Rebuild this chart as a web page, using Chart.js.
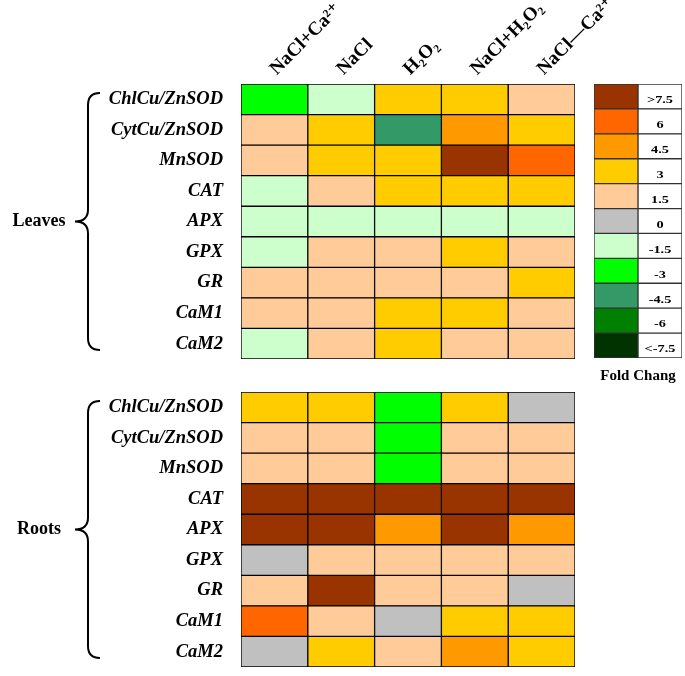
<!DOCTYPE html>
<html lang="en">
<head>
<meta charset="UTF-8">
<title>Fold change heatmap</title>
<script src="https://cdn.jsdelivr.net/npm/chart.js"></script>
<style>
  body { margin: 0; background: #fff; }
  #wrap { position: relative; width: 685px; height: 676px; overflow: hidden; }
  canvas { position: absolute; }
</style>
</head>
<body>
<div id="wrap">
  <canvas id="leaves" width="685" height="362" style="left:0;top:0"></canvas>
  <canvas id="roots" width="590" height="314" style="left:0;top:362px"></canvas>
  <canvas id="scale" width="100" height="310" style="left:585px;top:75px"></canvas>
</div>
<script>
// columns and rows of the heatmap
const treatments = ['NaCl+Ca²⁺', 'NaCl', 'H₂O₂', 'NaCl+H₂O₂', 'NaCl—Ca²⁺'];
const genes = ['ChlCu/ZnSOD', 'CytCu/ZnSOD', 'MnSOD', 'CAT', 'APX', 'GPX', 'GR', 'CaM1', 'CaM2'];

// fold change class of each cell, one row per gene, one column per treatment
const leavesFold = [
  [-3, -1.5, 3, 3, 1.5],
  [1.5, 3, -4.5, 4.5, 3],
  [1.5, 3, 3, 7.5, 6],
  [-1.5, 1.5, 3, 3, 3],
  [-1.5, -1.5, -1.5, -1.5, -1.5],
  [-1.5, 1.5, 1.5, 3, 1.5],
  [1.5, 1.5, 1.5, 1.5, 3],
  [1.5, 1.5, 3, 3, 1.5],
  [-1.5, 1.5, 3, 1.5, 1.5]
];
const rootsFold = [
  [3, 3, -3, 3, 0],
  [1.5, 1.5, -3, 1.5, 1.5],
  [1.5, 1.5, -3, 1.5, 1.5],
  [7.5, 7.5, 7.5, 7.5, 7.5],
  [7.5, 7.5, 4.5, 7.5, 4.5],
  [0, 1.5, 1.5, 1.5, 1.5],
  [1.5, 7.5, 1.5, 1.5, 0],
  [6, 1.5, 0, 3, 3],
  [0, 3, 1.5, 4.5, 3]
];

// colour key
const legendLevels = [7.5, 6, 4.5, 3, 1.5, 0, -1.5, -3, -4.5, -6, -7.5];
const legendLabels = ['>7.5', '6', '4.5', '3', '1.5', '0', '-1.5', '-3', '-4.5', '-6', '<-7.5'];
const legendColors = ['#993300', '#FF6600', '#FF9900', '#FFCC00', '#FFCC99', '#C0C0C0',
                      '#CCFFCC', '#00FF00', '#339966', '#008000', '#003300'];

const serif = '"Liberation Serif", "Times New Roman", "DejaVu Serif", serif';

function colorFor(v) {
  let best = 0;
  legendLevels.forEach((l, i) => {
    if (Math.abs(l - v) < Math.abs(legendLevels[best] - v)) best = i;
  });
  return legendColors[best];
}

// fixed axis size, no extra padding from label overhang
function fixSize(w, h) {
  return s => {
    if (w !== null) s.width = w;
    if (h !== null) s.height = h;
    s.paddingTop = 0;
    s.paddingBottom = 0;
    s.paddingLeft = 0;
    s.paddingRight = 0;
  };
}

function drawBrace(ctx, x, top, bottom) {
  const mid = (top + bottom) / 2;
  const r = 12;
  ctx.beginPath();
  ctx.moveTo(x + r, top);
  ctx.quadraticCurveTo(x, top, x, top + r);
  ctx.lineTo(x, mid - r);
  ctx.quadraticCurveTo(x, mid, x - r - 1, mid);
  ctx.quadraticCurveTo(x, mid, x, mid + r);
  ctx.lineTo(x, bottom - r);
  ctx.quadraticCurveTo(x, bottom, x + r, bottom);
  ctx.stroke();
}

// brace and organ name on the left of each panel
const bracePlugin = {
  id: 'groupBrace',
  afterDraw(chart, args, opts) {
    const ctx = chart.ctx;
    const area = chart.chartArea;
    ctx.save();
    ctx.strokeStyle = '#000';
    ctx.lineWidth = 2;
    drawBrace(ctx, 88, area.top + 9, area.bottom - 9);
    ctx.fillStyle = '#000';
    ctx.font = 'bold 18px ' + serif;
    ctx.textAlign = 'center';
    ctx.textBaseline = 'middle';
    ctx.fillText(opts.label, 39, (area.top + area.bottom) / 2);
    ctx.restore();
  }
};

function heatmap(id, fold, label, showHeader, padTop, padBottom, padRight) {
  const datasets = treatments.map((t, j) => ({
    label: t,
    data: genes.map(() => 1),
    backgroundColor: fold.map(row => colorFor(row[j])),
    borderColor: '#000',
    borderWidth: 1,
    borderSkipped: false,
    barPercentage: 1,
    categoryPercentage: 1
  }));

  return new Chart(document.getElementById(id), {
    type: 'bar',
    data: { labels: genes, datasets: datasets },
    options: {
      indexAxis: 'y',
      responsive: false,
      animation: false,
      layout: { padding: { top: padTop, bottom: padBottom, right: padRight, left: 0 } },
      plugins: {
        legend: { display: false },
        tooltip: { enabled: false },
        groupBrace: { label: label }
      },
      scales: {
        x: { display: false, stacked: true, min: 0, max: 5 },
        x2: {
          type: 'category',
          labels: treatments,
          position: 'top',
          offset: true,
          display: showHeader,
          grid: { display: false, drawTicks: false },
          border: { display: false },
          ticks: {
            autoSkip: false,
            minRotation: 45,
            maxRotation: 45,
            padding: 4,
            labelOffset: 15,
            color: '#000',
            font: { family: serif, size: 19, weight: 'bold' }
          },
          afterFit: fixSize(null, showHeader ? 84 : 0)
        },
        y: {
          stacked: true,
          grid: { display: false, drawTicks: false },
          border: { display: false },
          ticks: {
            autoSkip: false,
            padding: 18,
            color: '#000',
            font: { family: serif, size: 18.5, weight: 'bold', style: 'italic' }
          },
          afterFit: fixSize(241, null)
        }
      }
    },
    plugins: [bracePlugin]
  });
}

heatmap('leaves', leavesFold, 'Leaves', true, 0, 3, 110);
heatmap('roots', rootsFold, 'Roots', false, 30, 9, 15);

// text inside the white cells of the key (the original type is set wide)
const keyTextPlugin = {
  id: 'keyText',
  afterDatasetsDraw(chart) {
    const ctx = chart.ctx;
    const meta = chart.getDatasetMeta(1);
    ctx.fillStyle = '#000';
    meta.data.forEach((bar, i) => {
      const p = bar.getProps(['x', 'y', 'base'], true);
      ctx.save();
      ctx.translate((p.x + p.base) / 2, p.y + 4);
      ctx.scale(1.3, 1);
      ctx.font = 'bold 11px ' + serif;
      ctx.textAlign = 'center';
      ctx.textBaseline = 'middle';
      ctx.fillText(legendLabels[i], 0, 0);
      ctx.restore();
    });
  }
};

new Chart(document.getElementById('scale'), {
  type: 'bar',
  data: {
    labels: legendLabels,
    datasets: [
      {
        data: legendLevels.map(() => 1),
        backgroundColor: legendColors,
        borderColor: '#333',
        borderWidth: 1,
        borderSkipped: false,
        barPercentage: 1,
        categoryPercentage: 1
      },
      {
        data: legendLevels.map(() => 1),
        backgroundColor: '#fff',
        borderColor: '#333',
        borderWidth: 1,
        borderSkipped: false,
        barPercentage: 1,
        categoryPercentage: 1
      }
    ]
  },
  options: {
    indexAxis: 'y',
    responsive: false,
    animation: false,
    layout: { padding: { top: 9, bottom: 0, left: 9, right: 3 } },
    plugins: { legend: { display: false }, tooltip: { enabled: false } },
    scales: {
      x: {
        stacked: true,
        min: 0,
        max: 2,
        grid: { display: false, drawTicks: false },
        border: { display: false },
        ticks: { display: false },
        title: {
          display: true,
          text: 'Fold Chang',
          color: '#000',
          padding: { top: 8, bottom: 0 },
          font: { family: serif, size: 15, weight: 'bold' }
        },
        afterFit: fixSize(null, 27)
      },
      y: { stacked: true, display: false }
    }
  },
  plugins: [keyTextPlugin]
});
</script>
</body>
</html>
